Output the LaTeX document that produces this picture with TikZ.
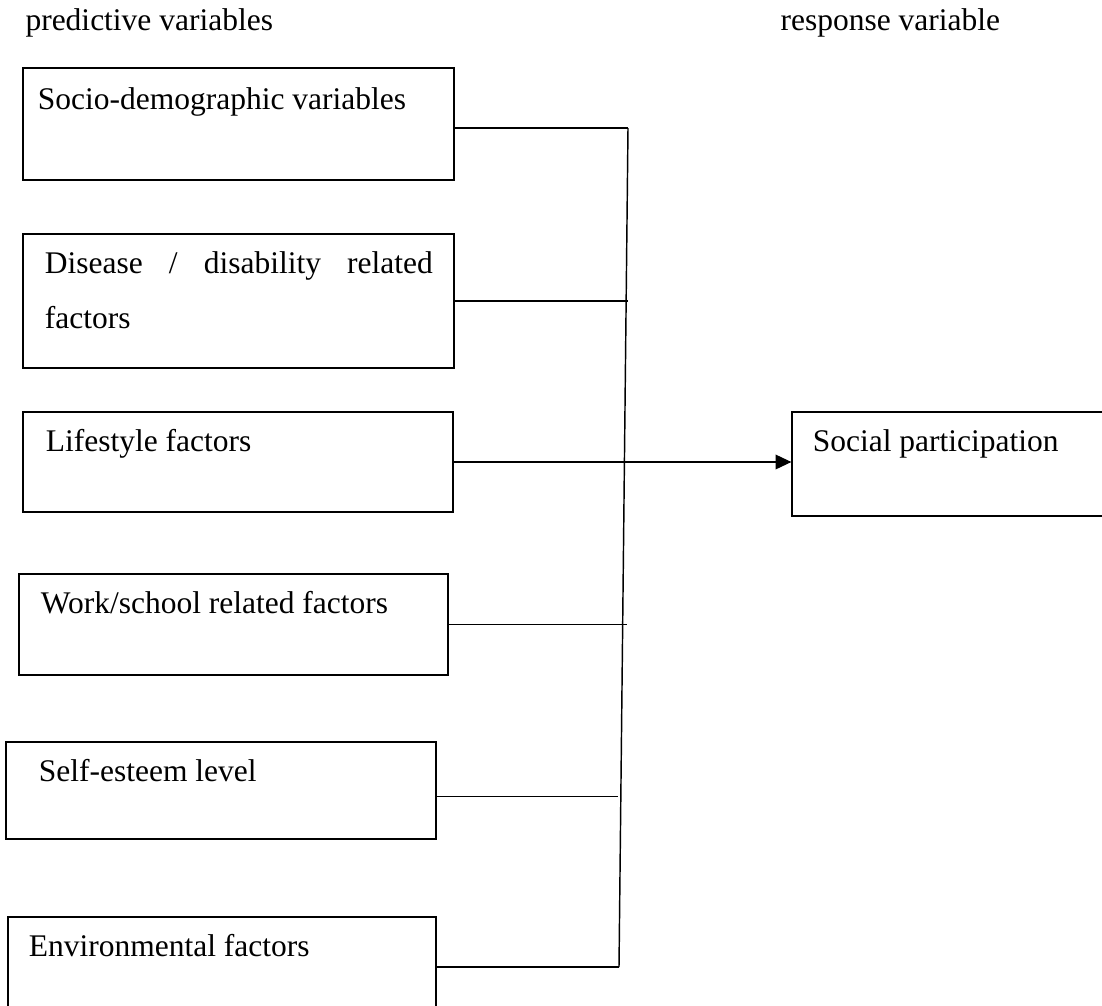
\documentclass[tikz,border=0pt]{standalone}
\usepackage{fontspec}
\setmainfont{Liberation Serif}
\usetikzlibrary{arrows.meta, fit, calc}
\tikzset{>={Triangle[length=6pt,width=5.6pt]}}

\begin{document}
\begin{tikzpicture}[x=0.381pt, y=-0.381pt,
  box/.style={draw, line width=0.5pt, inner sep=0pt},
  txt/.style={anchor=base west, inner sep=0pt, align=left, font=\fontsize{12}{21}\selectfont},
  link/.style={line width=0.45pt}]
\useasboundingbox (0,0) rectangle (1102,1006);
\node[txt] (pred) at (25,31) {predictive variables};
\node[txt] (resp) at (780,31) {response variable};
\node[box, fit={(23,68) (454,180)}] (socio) {};
\node[box, fit={(23,234) (454,368)}] (disease) {};
\node[box, fit={(23,412) (453,512)}] (life) {};
\node[box, fit={(19,574) (448,675)}] (work) {};
\node[box, fit={(6,742) (436,839)}] (self) {};
\node[box, fit={(8,917) (436,1017)}] (env) {};
\node[box, fit={(792,412) (1130,516)}] (social) {};
\node[txt] (socio-t) at ([shift={(15,42)}]socio.north west) {Socio-demographic variables};
\node[txt] (disease-t) at ([shift={(22,95)}]disease.north west) {\makebox[147.8pt][s]{Disease / disability related}\\factors};
\node[txt] (life-t) at ([shift={(23,40)}]life.north west) {Lifestyle factors};
\node[txt] (work-t) at ([shift={(22,40)}]work.north west) {Work/school related factors};
\node[txt] (self-t) at ([shift={(33,40)}]self.north west) {Self-esteem level};
\node[txt] (env-t) at ([shift={(21,40)}]env.north west) {Environmental factors};
\node[txt] (social-t) at ([shift={(21,40)}]social.north west) {Social participation};
\coordinate (bustop) at (628,128);
\coordinate (busbot) at (619,967);
\draw[line width=0.55pt] (bustop) -- (busbot);
\draw[link] (socio.east |- bustop) -- (bustop);
\draw[link] (disease.east) -- ++(173,0);
\draw[link,->] (life.east) -- (life.east -| social.west);
\draw[link] (work.east) -- ++(178,0);
\draw[link] ($(self.east)+(0,6)$) -- ++(181,0);
\draw[link] (env.east) -- (busbot);
\end{tikzpicture}
\end{document}
